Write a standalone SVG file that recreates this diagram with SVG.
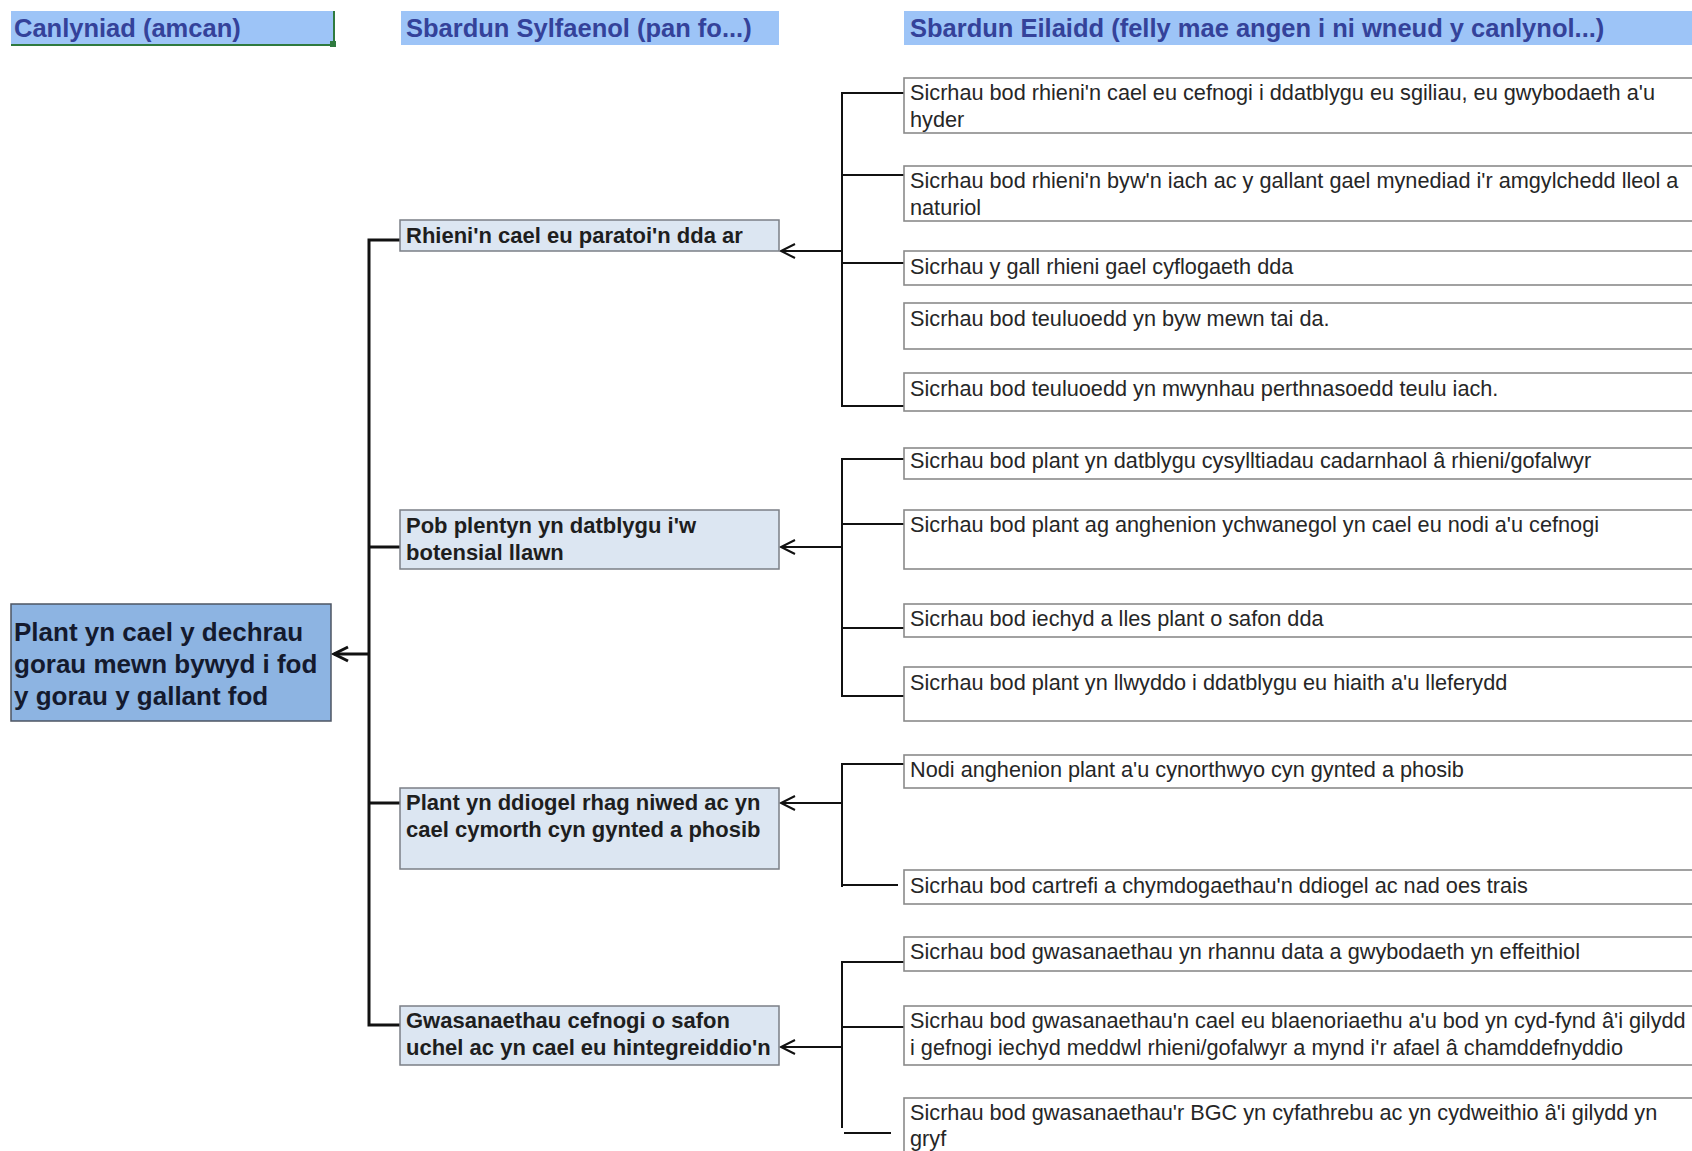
<svg xmlns="http://www.w3.org/2000/svg" width="1692" height="1151" viewBox="0 0 1692 1151">
<style>
  text { font-family: "Liberation Sans", Arial, sans-serif; }
  .hdr { fill: #9dc4f7; }
  .hdrt { font-size: 25.5px; font-weight: bold; fill: #34429a; }
  .main { fill: #8db4e2; stroke: #4d5563; stroke-width: 1.5; }
  .maint { font-size: 26px; font-weight: bold; fill: #141a2e; }
  .l2 { fill: #dce6f2; stroke: #7b7f86; stroke-width: 1.5; }
  .l2t { font-size: 22px; font-weight: bold; fill: #1e1e1e; }
  .l3 { fill: #ffffff; stroke: #8a8a8a; stroke-width: 1.6; }
  .l3t { font-size: 21.7px; fill: #262626; }
  .cn { fill: none; stroke: #111; stroke-width: 2; }
  .trunk { fill: none; stroke: #111; stroke-width: 3; }
</style>
<defs>
  <marker id="chev" markerUnits="userSpaceOnUse" markerWidth="20" markerHeight="20" refX="15" refY="8" orient="auto">
    <path d="M1,1 L15,8 L1,15" fill="none" stroke="#111" stroke-width="2"/>
  </marker>
  <marker id="chevBig" markerUnits="userSpaceOnUse" markerWidth="22" markerHeight="22" refX="16" refY="9" orient="auto">
    <path d="M2,2 L16,9 L2,16" fill="none" stroke="#111" stroke-width="3"/>
  </marker>
</defs>
<rect width="1692" height="1151" fill="#ffffff"/>

<g id="header-1">
  <rect class="hdr" x="11" y="11" width="323" height="34"/>
  <path d="M334,11 V45 H11" fill="none" stroke="#2f7a3f" stroke-width="2"/>
  <rect x="330" y="41" width="6" height="6" fill="#2f7a3f"/>
  <text class="hdrt" x="14" y="37">Canlyniad (amcan)</text>
</g>
<g id="header-2">
  <rect class="hdr" x="401" y="11" width="378" height="34"/>
  <text class="hdrt" x="406" y="37">Sbardun Sylfaenol (pan fo...)</text>
</g>
<g id="header-3">
  <rect class="hdr" x="904" y="11" width="790" height="34"/>
  <text class="hdrt" x="910" y="37">Sbardun Eilaidd (felly mae angen i ni wneud y canlynol...)</text>
</g>

<g id="connectors">
  <path class="trunk" d="M400,240 H369 V1025 H400"/>
  <path class="trunk" d="M369,547 H400"/>
  <path class="trunk" d="M369,803 H400"/>
  <line class="trunk" x1="369" y1="654" x2="334" y2="654" marker-end="url(#chevBig)"/>

  <path class="cn" d="M904,93 H842 V406 H904"/>
  <path class="cn" d="M842,175 H904"/>
  <path class="cn" d="M842,263 H904"/>
  <line class="cn" x1="842" y1="251" x2="781" y2="251" marker-end="url(#chev)"/>

  <path class="cn" d="M904,459 H842 V696 H904"/>
  <path class="cn" d="M842,524 H904"/>
  <path class="cn" d="M842,628 H904"/>
  <line class="cn" x1="842" y1="547" x2="781" y2="547" marker-end="url(#chev)"/>

  <path class="cn" d="M904,764 H842 V887"/>
  <path class="cn" d="M842,885 H898"/>
  <line class="cn" x1="842" y1="803" x2="781" y2="803" marker-end="url(#chev)"/>

  <path class="cn" d="M904,962 H842 V1128"/>
  <path class="cn" d="M842,1027 H904"/>
  <line class="cn" x1="842" y1="1047" x2="781" y2="1047" marker-end="url(#chev)"/>
  <path class="cn" d="M844,1133 H891"/>
</g>

<g id="outcome">
  <rect class="main" x="11" y="604" width="320" height="117"/>
  <text class="maint" x="14" y="641">Plant yn cael y dechrau</text>
  <text class="maint" x="14" y="673">gorau mewn bywyd i fod</text>
  <text class="maint" x="14" y="705">y gorau y gallant fod</text>
</g>

<g id="driver-1">
  <rect class="l2" x="400" y="220" width="379" height="31"/>
  <text class="l2t" x="406" y="243">Rhieni'n cael eu paratoi'n dda ar</text>
</g>
<g id="driver-2">
  <rect class="l2" x="400" y="510" width="379" height="59"/>
  <text class="l2t" x="406" y="533">Pob plentyn yn datblygu i'w</text>
  <text class="l2t" x="406" y="560">botensial llawn</text>
</g>
<g id="driver-3">
  <rect class="l2" x="400" y="788" width="379" height="81"/>
  <text class="l2t" x="406" y="810">Plant yn ddiogel rhag niwed ac yn</text>
  <text class="l2t" x="406" y="837">cael cymorth cyn gynted a phosib</text>
</g>
<g id="driver-4">
  <rect class="l2" x="400" y="1006" width="379" height="59"/>
  <text class="l2t" x="406" y="1028">Gwasanaethau cefnogi o safon</text>
  <text class="l2t" x="406" y="1055">uchel ac yn cael eu hintegreiddio'n</text>
</g>

<g id="s1">
  <rect class="l3" x="904" y="78" width="800" height="55"/>
  <text class="l3t" x="910" y="100">Sicrhau bod rhieni'n cael eu cefnogi i ddatblygu eu sgiliau, eu gwybodaeth a'u</text>
  <text class="l3t" x="910" y="127">hyder</text>
</g>
<g id="s2">
  <rect class="l3" x="904" y="166" width="800" height="55"/>
  <text class="l3t" x="910" y="188">Sicrhau bod rhieni'n byw'n iach ac y gallant gael mynediad i'r amgylchedd lleol a</text>
  <text class="l3t" x="910" y="215">naturiol</text>
</g>
<g id="s3">
  <rect class="l3" x="904" y="251" width="800" height="34"/>
  <text class="l3t" x="910" y="274">Sicrhau y gall rhieni gael cyflogaeth dda</text>
</g>
<g id="s4">
  <rect class="l3" x="904" y="303" width="800" height="46"/>
  <text class="l3t" x="910" y="326">Sicrhau bod teuluoedd yn byw mewn tai da.</text>
</g>
<g id="s5">
  <rect class="l3" x="904" y="373" width="800" height="38"/>
  <text class="l3t" x="910" y="396">Sicrhau bod teuluoedd yn mwynhau perthnasoedd teulu iach.</text>
</g>

<g id="s6">
  <rect class="l3" x="904" y="448" width="800" height="31"/>
  <text class="l3t" x="910" y="468">Sicrhau bod plant yn datblygu cysylltiadau cadarnhaol â rhieni/gofalwyr</text>
</g>
<g id="s7">
  <rect class="l3" x="904" y="510" width="800" height="59"/>
  <text class="l3t" x="910" y="532">Sicrhau bod plant ag anghenion ychwanegol yn cael eu nodi a'u cefnogi</text>
</g>
<g id="s8">
  <rect class="l3" x="904" y="604" width="800" height="33"/>
  <text class="l3t" x="910" y="626">Sicrhau bod iechyd a lles plant o safon dda</text>
</g>
<g id="s9">
  <rect class="l3" x="904" y="667" width="800" height="54"/>
  <text class="l3t" x="910" y="690">Sicrhau bod plant yn llwyddo i ddatblygu eu hiaith a'u lleferydd</text>
</g>

<g id="s10">
  <rect class="l3" x="904" y="755" width="800" height="33"/>
  <text class="l3t" x="910" y="777">Nodi anghenion plant a'u cynorthwyo cyn gynted a phosib</text>
</g>
<g id="s11">
  <rect class="l3" x="904" y="870" width="800" height="34"/>
  <text class="l3t" x="910" y="893">Sicrhau bod cartrefi a chymdogaethau'n ddiogel ac nad oes trais</text>
</g>

<g id="s12">
  <rect class="l3" x="904" y="937" width="800" height="34"/>
  <text class="l3t" x="910" y="959">Sicrhau bod gwasanaethau yn rhannu data a gwybodaeth yn effeithiol</text>
</g>
<g id="s13">
  <rect class="l3" x="904" y="1006" width="800" height="59"/>
  <text class="l3t" x="910" y="1028">Sicrhau bod gwasanaethau'n cael eu blaenoriaethu a'u bod yn cyd-fynd â'i gilydd</text>
  <text class="l3t" x="910" y="1055">i gefnogi iechyd meddwl rhieni/gofalwyr a mynd i'r afael â chamddefnyddio</text>
</g>
<g id="s14">
  <rect class="l3" x="904" y="1098" width="800" height="70"/>
  <text class="l3t" x="910" y="1120">Sicrhau bod gwasanaethau'r BGC yn cyfathrebu ac yn cydweithio â'i gilydd yn</text>
  <text class="l3t" x="910" y="1146">gryf</text>
</g>
</svg>
